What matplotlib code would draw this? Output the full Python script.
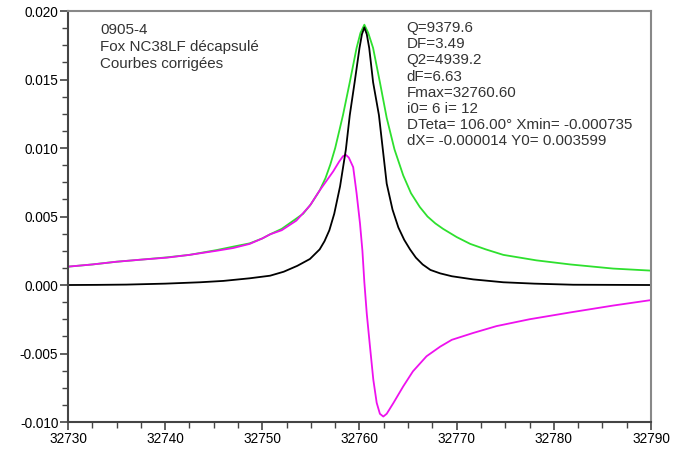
import numpy as np
import matplotlib
matplotlib.use("Agg")
import matplotlib.pyplot as plt
from matplotlib.ticker import MultipleLocator, FormatStrFormatter

plt.rcParams['font.family'] = ['Liberation Sans', 'DejaVu Sans']
plt.rcParams['axes.unicode_minus'] = False

# amplitude (black)
f_amp = [32730, 32733, 32736, 32740, 32743.6, 32746, 32748.7, 32750.8, 32752.2,
         32753.6, 32754.9, 32755.9, 32756.4, 32756.9, 32757.4, 32758.0, 32758.6,
         32759.0, 32759.5, 32760.0, 32760.25, 32760.5, 32760.75, 32761.0,
         32761.4, 32762.0, 32762.4, 32762.8, 32763.4, 32764.0, 32764.6,
         32765.2, 32765.8, 32766.5, 32767.3, 32768.3, 32769.5, 32771.7, 32774.8,
         32778, 32782, 32790]
amp = [0.0, 0.00001, 0.00003, 0.0001, 0.0002, 0.0003, 0.00049, 0.00068, 0.00097,
       0.0014, 0.0019, 0.0026, 0.0032, 0.0040, 0.0052, 0.0072, 0.0099,
       0.0124, 0.0148, 0.0173, 0.0183, 0.0188, 0.0183, 0.0173,
       0.0148, 0.0124, 0.0099, 0.0074, 0.0055, 0.0042, 0.0033,
       0.0026, 0.0020, 0.0015, 0.0011, 0.00085, 0.00064, 0.00041, 0.0002,
       0.0001, 0.00002, 0.0]

# corrected modulus (green)
f_mod = [32730, 32732.5, 32735, 32737.5, 32740.2, 32742.5, 32745.3, 32747,
         32748.7, 32750, 32750.8, 32752.0, 32753.0, 32754.2, 32755.0, 32755.9,
         32756.5, 32757.0, 32757.5, 32758.3, 32759.0, 32759.7, 32760.1, 32760.5,
         32760.9, 32761.4, 32762.1, 32762.8, 32763.6, 32764.5, 32765.3, 32766.2,
         32767.0, 32767.8, 32768.6, 32769.3, 32770.0, 32771.4, 32773.0, 32774.8,
         32778.2, 32781.7, 32786.1, 32790]
mod = [0.00134, 0.0015, 0.0017, 0.00185, 0.00202, 0.0022, 0.00255, 0.0028,
       0.00304, 0.0034, 0.0037, 0.0041, 0.0046, 0.0052, 0.0059, 0.0069,
       0.0078, 0.0088, 0.0100, 0.0124, 0.0148, 0.0173, 0.0184, 0.0190,
       0.0184, 0.0173, 0.0148, 0.0122, 0.0099, 0.0080, 0.0067, 0.0057,
       0.0050, 0.0045, 0.0041, 0.0038, 0.0035, 0.0030, 0.0026, 0.0022,
       0.0018, 0.0015, 0.0012, 0.00105]

# quadrature (magenta)
f_quad = [32730, 32732.5, 32735, 32737.5, 32740.2, 32742.5, 32745.3, 32747,
          32748.7, 32750, 32750.8, 32752.0, 32753.5, 32754.9, 32755.9, 32756.6,
          32757.3, 32757.9, 32758.3, 32758.6, 32758.9, 32759.35, 32759.7,
          32760.05, 32760.3, 32760.5, 32760.75, 32761.08, 32761.42, 32761.77,
          32762.1, 32762.45, 32762.8, 32763.5, 32764.5, 32765.5, 32766.9,
          32768.3, 32769.5, 32771.7, 32774.1, 32777.5, 32781.7, 32786.1, 32790]
quad = [0.00134, 0.0015, 0.0017, 0.00185, 0.0020, 0.0022, 0.0025, 0.0027,
        0.0030, 0.0034, 0.0037, 0.0040, 0.0047, 0.0058, 0.0069, 0.0076,
        0.0083, 0.0090, 0.0094, 0.0095, 0.0093, 0.0086, 0.0067,
        0.0045, 0.0025, 0.0002, -0.0021, -0.0045, -0.0069, -0.0086,
        -0.0094, -0.0096, -0.0094, -0.0086, -0.0074, -0.0063, -0.0052,
        -0.0045, -0.0040, -0.0035, -0.0030, -0.0025, -0.0020, -0.0015, -0.0011]

header = ["0905-4", "Fox NC38LF décapsulé", "Courbes corrigées"]
params = ["Q=9379.6", "DF=3.49", "Q2=4939.2", "dF=6.63", "Fmax=32760.60",
          "i0= 6 i= 12", "DTeta= 106.00° Xmin= -0.000735",
          "dX= -0.000014 Y0= 0.003599"]

fig = plt.figure(figsize=(6.76, 4.49), dpi=100)
ax = fig.add_axes([0.1006, 0.0601, 0.8624, 0.9154])

ax.plot(f_mod, mod, color='#2ee02e', lw=1.3)
ax.plot(f_quad, quad, color='#ee11ee', lw=1.3)
ax.plot(f_amp, amp, color='black', lw=1.3)

ax.set_xlim(32730, 32790)
ax.set_ylim(-0.010, 0.020)
ax.xaxis.set_major_locator(MultipleLocator(10))
ax.xaxis.set_minor_locator(MultipleLocator(2.5))
ax.yaxis.set_major_locator(MultipleLocator(0.005))
ax.yaxis.set_minor_locator(MultipleLocator(0.00125))
ax.yaxis.set_major_formatter(FormatStrFormatter('%.3f'))
ax.xaxis.set_major_formatter(FormatStrFormatter('%d'))

ax.tick_params(which='major', direction='out', length=6, width=1.2,
               color='#444444', labelsize=9.8, pad=1)
ax.tick_params(which='minor', direction='out', length=4, width=1.0,
               color='#444444')
ax.tick_params(top=False, right=False)

for s in ['left', 'bottom']:
    ax.spines[s].set_color('#444444')
    ax.spines[s].set_linewidth(1.5)
for s in ['top', 'right']:
    ax.spines[s].set_color('#888888')
    ax.spines[s].set_linewidth(1.5)

ax.text(0.055, 0.97, "\n".join(header), transform=ax.transAxes, va='top',
        ha='left', fontsize=10.9, color='#333333', linespacing=1.26)
ax.text(0.581, 0.975, "\n".join(params), transform=ax.transAxes, va='top',
        ha='left', fontsize=10.9, color='#333333', linespacing=1.19)

fig.savefig("out.png", dpi=100)
